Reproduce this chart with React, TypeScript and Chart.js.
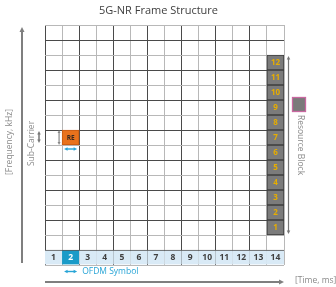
import React, { useEffect, useRef } from 'react';
import { Chart, registerables } from 'chart.js';

Chart.register(...registerables);

// ---------- data ----------
const chartTitle = '5G-NR Frame Structure';
const ofdmSymbols = ['1', '2', '3', '4', '5', '6', '7', '8', '9', '10', '11', '12', '13', '14'];
const highlightedSymbol = '2';
const resourceBlocks = [1, 2, 3, 4, 5, 6, 7, 8, 9, 10, 11, 12];
const resourceBlockSymbol = '14';
const resourceElementSymbol = '2';
const resourceElementBlock = 7;
const labelRowRange = [0, 1];
const firstBlockRow = 2; // row index of resource block 1 (label row + one empty row below)
const totalRows = 16;
const frequencyLabel = '[Frequency, kHz]';
const timeLabel = '[Time, ms]';
const subCarrierLabel = 'Sub-Carrier';
const ofdmLabel = 'OFDM Symbol';
const resourceBlockLabel = 'Resource Block';
const resourceElementLabel = 'RE';

const FONT = '"Open Sans", "Noto Sans", sans-serif';
const GRAY = '#7f7f7f';
const CYAN = '#27a4d6';

function arrow(
  ctx: CanvasRenderingContext2D,
  x1: number, y1: number, x2: number, y2: number,
  color: string, width: number, head: number, startHead: boolean, endHead: boolean
) {
  const ang = Math.atan2(y2 - y1, x2 - x1);
  const cos = Math.cos(ang), sin = Math.sin(ang);
  const sx = startHead ? x1 + cos * head * 0.8 : x1;
  const sy = startHead ? y1 + sin * head * 0.8 : y1;
  const ex = endHead ? x2 - cos * head * 0.8 : x2;
  const ey = endHead ? y2 - sin * head * 0.8 : y2;
  ctx.save();
  ctx.strokeStyle = color;
  ctx.fillStyle = color;
  ctx.lineWidth = width;
  ctx.beginPath();
  ctx.moveTo(sx, sy);
  ctx.lineTo(ex, ey);
  ctx.stroke();
  const tri = (tx: number, ty: number, a: number) => {
    const c = Math.cos(a), s = Math.sin(a);
    const w = head * 0.5;
    ctx.beginPath();
    ctx.moveTo(tx, ty);
    ctx.lineTo(tx - c * head - s * w, ty - s * head + c * w);
    ctx.lineTo(tx - c * head + s * w, ty - s * head - c * w);
    ctx.closePath();
    ctx.fill();
  };
  if (endHead) tri(x2, y2, ang);
  if (startHead) tri(x1, y1, ang + Math.PI);
  ctx.restore();
}

function rotatedText(
  ctx: CanvasRenderingContext2D, text: string, x: number, y: number,
  angle: number, font: string, color: string
) {
  ctx.save();
  ctx.translate(x, y);
  ctx.rotate(angle);
  ctx.font = font;
  ctx.fillStyle = color;
  ctx.textAlign = 'center';
  ctx.textBaseline = 'middle';
  ctx.fillText(text, 0, 0);
  ctx.restore();
}

const cellLabelsPlugin = {
  id: 'cellLabels',
  afterDatasetsDraw(chart: any) {
    const ctx: CanvasRenderingContext2D = chart.ctx;
    ctx.save();
    ctx.textAlign = 'center';
    ctx.textBaseline = 'middle';
    const m0 = chart.getDatasetMeta(0);
    m0.data.forEach((el: any, i: number) => {
      const s = ofdmSymbols[i];
      ctx.font = `bold 8.5px ${FONT}`;
      ctx.fillStyle = s === highlightedSymbol ? '#ffffff' : '#404040';
      ctx.fillText(s, el.x, (el.y + el.base) / 2 + 0.5);
    });
    const m1 = chart.getDatasetMeta(1);
    m1.data.forEach((el: any, i: number) => {
      ctx.font = `bold 8px ${FONT}`;
      ctx.fillStyle = '#e6ad00';
      ctx.fillText(String(resourceBlocks[i]), el.x, (el.y + el.base) / 2 + 0.5);
    });
    const m2 = chart.getDatasetMeta(2);
    m2.data.forEach((el: any) => {
      ctx.font = `bold 6.5px ${FONT}`;
      ctx.fillStyle = '#3a2a20';
      ctx.fillText(resourceElementLabel, el.x, (el.y + el.base) / 2 + 0.5);
    });
    ctx.restore();
  },
};

const annotationsPlugin = {
  id: 'frameAnnotations',
  afterDraw(chart: any) {
    const ctx: CanvasRenderingContext2D = chart.ctx;
    const area = chart.chartArea;
    const xs = chart.scales.x;
    const ys = chart.scales.y;
    const cw = xs.getPixelForValue(1) - xs.getPixelForValue(0);
    const colLeft = (label: string) => xs.getPixelForValue(ofdmSymbols.indexOf(label)) - cw / 2;

    // title
    ctx.save();
    ctx.font = `11px ${FONT}`;
    ctx.fillStyle = '#404040';
    ctx.textAlign = 'center';
    ctx.textBaseline = 'middle';
    ctx.fillText(chartTitle, (area.left + area.right) / 2 - 6, 11);
    ctx.restore();

    // frequency axis
    arrow(ctx, area.left - 23, area.bottom - 2, area.left - 23, area.top + 2, GRAY, 2, 5, false, true);
    rotatedText(ctx, frequencyLabel, area.left - 35, ys.getPixelForValue(8.2), -Math.PI / 2, `8.5px ${FONT}`, '#8a8a8a');

    // sub-carrier
    const reTop = ys.getPixelForValue(firstBlockRow + resourceElementBlock);
    const reBot = ys.getPixelForValue(firstBlockRow + resourceElementBlock - 1);
    rotatedText(ctx, subCarrierLabel, area.left - 13, ys.getPixelForValue(8.1), -Math.PI / 2, `8.5px ${FONT}`, '#8a8a8a');
    arrow(ctx, area.left - 6, reTop + 1, area.left - 6, reBot - 2, '#777', 1.5, 3.5, true, true);

    // RE markers
    const reLeft = colLeft(resourceElementSymbol);
    arrow(ctx, reLeft - 3, reTop, reLeft - 3, reBot, '#888', 1.2, 3, true, true);
    arrow(ctx, reLeft + 2, reBot + 4, reLeft + cw - 2, reBot + 4, CYAN, 1.4, 3.5, true, true);

    // OFDM symbol
    const symLeft = colLeft(highlightedSymbol);
    arrow(ctx, symLeft + 2, area.bottom + 6.5, symLeft + cw - 2, area.bottom + 6.5, CYAN, 1.4, 3.5, true, true);
    ctx.save();
    ctx.font = `8.5px ${FONT}`;
    ctx.fillStyle = CYAN;
    ctx.textAlign = 'left';
    ctx.textBaseline = 'middle';
    ctx.fillText(ofdmLabel, symLeft + cw + 3, area.bottom + 6.5);
    ctx.restore();

    // time axis
    arrow(ctx, area.left, area.bottom + 17, area.right, area.bottom + 17, GRAY, 2, 5, false, true);
    ctx.save();
    ctx.font = `8.5px ${FONT}`;
    ctx.fillStyle = '#8a8a8a';
    ctx.textAlign = 'left';
    ctx.textBaseline = 'middle';
    ctx.fillText(timeLabel, area.right + 11, area.bottom + 16);
    ctx.restore();

    // resource block bracket arrow
    const rbTop = ys.getPixelForValue(firstBlockRow + resourceBlocks.length);
    const rbBot = ys.getPixelForValue(firstBlockRow);
    arrow(ctx, area.right + 4.5, rbTop + 1, area.right + 4.5, rbBot - 1, '#777', 1.2, 3.5, true, true);

    // legend square
    const sqTop = ys.getPixelForValue(firstBlockRow + 9) - 3;
    ctx.save();
    ctx.fillStyle = '#7a7a7a';
    ctx.fillRect(area.right + 8, sqTop, 14, 15);
    ctx.strokeStyle = '#c968a0';
    ctx.lineWidth = 1.3;
    ctx.strokeRect(area.right + 8.5, sqTop + 0.5, 13, 14);
    ctx.restore();
    rotatedText(ctx, resourceBlockLabel, area.right + 16, ys.getPixelForValue(8.0), Math.PI / 2, `8.5px ${FONT}`, '#8a8a8a');
  },
};

export default function App() {
  const ref = useRef<HTMLCanvasElement | null>(null);

  useEffect(() => {
    document.body.style.margin = '0';
    const canvas = ref.current;
    if (!canvas) return;
    const chart = new Chart(canvas, {
      type: 'bar',
      data: {
        labels: ofdmSymbols,
        datasets: [
          {
            label: 'OFDM Symbol',
            data: ofdmSymbols.map((s) => ({ x: s, y: labelRowRange })),
            backgroundColor: ofdmSymbols.map((s) => (s === highlightedSymbol ? '#1a9bc8' : '#d9eaf6')),
            borderColor: '#555555',
            borderWidth: { top: 1, left: 0, right: 0, bottom: 0 },
            borderSkipped: false,
            grouped: false,
          } as any,
          {
            label: 'Resource Block',
            data: resourceBlocks.map((rb) => ({ x: resourceBlockSymbol, y: [firstBlockRow + rb - 1, firstBlockRow + rb] })),
            backgroundColor: '#7b7b7b',
            borderColor: '#3d3d3d',
            borderWidth: 1,
            borderSkipped: false,
            grouped: false,
          } as any,
          {
            label: 'Resource Element',
            data: [{ x: resourceElementSymbol, y: [firstBlockRow + resourceElementBlock - 1, firstBlockRow + resourceElementBlock] }],
            backgroundColor: '#e8721c',
            borderColor: '#c45a10',
            borderWidth: 1,
            borderSkipped: false,
            grouped: false,
          } as any,
        ],
      },
      options: {
        responsive: false,
        animation: false,
        devicePixelRatio: 1,
        layout: { padding: { left: 45, right: 52, top: 25, bottom: 22 } },
        categoryPercentage: 1,
        barPercentage: 1,
        plugins: {
          legend: { display: false },
          title: { display: false },
          tooltip: { enabled: false },
        },
        scales: {
          x: {
            type: 'category',
            offset: true,
            ticks: { display: false },
            border: { display: false },
            grid: {
              offset: true,
              drawTicks: false,
              lineWidth: 1,
              color: (c: any) => {
                const i = c.index ?? ofdmSymbols.length + 1;
                return i % 2 === 0 ? '#4a4a4a' : '#b8b8b8';
              },
            },
          },
          y: {
            type: 'linear',
            min: 0,
            max: totalRows,
            ticks: { display: false, stepSize: 1 },
            border: { display: false },
            grid: {
              drawTicks: false,
              lineWidth: 1,
              color: (c: any) => {
                const v = c.tick ? c.tick.value : 0;
                return v % 2 === 1 ? '#4a4a4a' : '#b8b8b8';
              },
            },
          },
        },
      } as any,
      plugins: [cellLabelsPlugin, annotationsPlugin],
    });
    return () => chart.destroy();
  }, []);

  return (
    <div style={{ width: 336, height: 287 }}>
      <canvas ref={ref} width={336} height={287} style={{ display: 'block' }} />
    </div>
  );
}
